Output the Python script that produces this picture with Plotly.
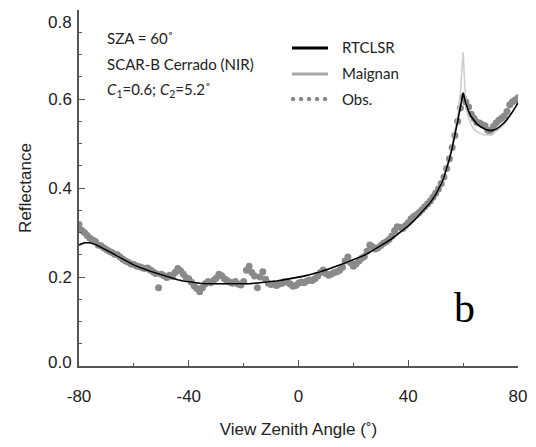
import plotly.graph_objects as go

# ---------------- data ----------------
obs_vza = list(range(-80, 81))
obs_refl = [
    0.318, 0.305, 0.300, 0.293, 0.287, 0.283, 0.280, 0.272, 0.270, 0.266,   # -80..-71
    0.262, 0.258, 0.255, 0.251, 0.250, 0.245, 0.240, 0.236, 0.233, 0.229,   # -70..-61
    0.228, 0.225, 0.223, 0.221, 0.219, 0.220, 0.216, 0.212, 0.208, 0.176,   # -60..-51
    0.206, 0.203, 0.199, 0.204, 0.201, 0.210, 0.219, 0.214, 0.207, 0.199,   # -50..-41
    0.196, 0.188, 0.180, 0.174, 0.167, 0.176, 0.185, 0.190, 0.187, 0.192,   # -40..-31
    0.197, 0.206, 0.203, 0.196, 0.192, 0.188, 0.186, 0.190, 0.184, 0.182,   # -30..-21
    0.190, 0.215, 0.224, 0.210, 0.202, 0.176, 0.200, 0.212, 0.195, 0.186,   # -20..-11
    0.183, 0.185, 0.181, 0.184, 0.186, 0.190, 0.188, 0.184, 0.179, 0.181,   # -10..-1
    0.186,                                                                   # 0
    0.189, 0.187, 0.191, 0.193, 0.192, 0.196, 0.202, 0.210, 0.216, 0.208,   # 1..10
    0.204, 0.207, 0.210, 0.212, 0.215, 0.222, 0.236, 0.245, 0.232, 0.224,   # 11..20
    0.229, 0.236, 0.242, 0.246, 0.258, 0.272, 0.268, 0.263, 0.266, 0.271,   # 21..30
    0.276, 0.279, 0.284, 0.292, 0.304, 0.313, 0.312, 0.309, 0.316, 0.322,   # 31..40
    0.331, 0.336, 0.340, 0.345, 0.351, 0.358, 0.364, 0.371, 0.379, 0.388,   # 41..50
    0.398, 0.410, 0.425, 0.444, 0.466, 0.491, 0.518, 0.550, 0.580, 0.604,   # 51..60
    0.593, 0.582, 0.566, 0.556, 0.548, 0.546, 0.542, 0.540, 0.530, 0.526,   # 61..70
    0.538, 0.546, 0.552, 0.557, 0.562, 0.572, 0.587, 0.594, 0.598, 0.603,   # 71..80
]

model_vza = [-80, -78, -76, -74, -72, -70, -68, -66, -64, -62, -60, -58, -56, -54, -52,
             -50, -48, -46, -44, -42, -40, -38, -36, -34, -32, -30, -28, -26, -24, -22,
             -20, -18, -16, -14, -12, -10, -8, -6, -4, -2, 0, 2, 4, 6, 8, 10, 12, 14, 16,
             18, 20, 22, 24, 26, 28, 30, 32, 34, 36, 38, 40, 42, 44, 46, 48, 50, 51, 52,
             53, 54, 55, 56, 57, 58, 59, 60, 61, 62, 63, 64, 65, 66, 67, 68, 69, 70, 71,
             72, 73, 74, 75, 76, 77, 78, 79, 80]
rtclsr = [0.272, 0.277, 0.277, 0.273, 0.267, 0.261, 0.254, 0.247, 0.240, 0.233, 0.227,
          0.222, 0.217, 0.213, 0.209, 0.205, 0.201, 0.197, 0.194, 0.191, 0.189, 0.187,
          0.186, 0.185, 0.185, 0.184, 0.184, 0.184, 0.184, 0.184, 0.185, 0.185, 0.186,
          0.187, 0.188, 0.189, 0.191, 0.193, 0.195, 0.197, 0.200, 0.202, 0.205, 0.208,
          0.212, 0.216, 0.220, 0.224, 0.229, 0.234, 0.239, 0.244, 0.249, 0.256, 0.263,
          0.270, 0.278, 0.286, 0.295, 0.305, 0.315, 0.326, 0.339, 0.352, 0.367, 0.385,
          0.396, 0.409, 0.424, 0.443, 0.465, 0.490, 0.518, 0.550, 0.582, 0.614, 0.590,
          0.572, 0.560, 0.551, 0.544, 0.539, 0.535, 0.532, 0.530, 0.529, 0.530, 0.532,
          0.536, 0.541, 0.547, 0.554, 0.562, 0.571, 0.581, 0.592]
maignan = [0.272, 0.277, 0.277, 0.273, 0.267, 0.261, 0.254, 0.247, 0.240, 0.233, 0.227,
           0.222, 0.217, 0.213, 0.209, 0.205, 0.201, 0.197, 0.194, 0.191, 0.189, 0.187,
           0.186, 0.185, 0.185, 0.184, 0.184, 0.184, 0.184, 0.184, 0.185, 0.185, 0.186,
           0.187, 0.188, 0.189, 0.191, 0.193, 0.195, 0.197, 0.200, 0.202, 0.205, 0.208,
           0.212, 0.216, 0.220, 0.224, 0.229, 0.234, 0.239, 0.244, 0.249, 0.256, 0.263,
           0.270, 0.278, 0.286, 0.295, 0.305, 0.315, 0.326, 0.339, 0.352, 0.367, 0.385,
           0.396, 0.409, 0.425, 0.445, 0.468, 0.494, 0.525, 0.562, 0.615, 0.705, 0.582,
           0.556, 0.541, 0.532, 0.527, 0.523, 0.520, 0.519, 0.519, 0.520, 0.523, 0.527,
           0.532, 0.538, 0.545, 0.553, 0.562, 0.571, 0.581, 0.592]

x_ticks = [-80, -40, 0, 40, 80]
y_ticks = [0.0, 0.2, 0.4, 0.6, 0.8]
legend_names = ["RTCLSR", "Maignan", "Obs."]

# ---------------- figure ----------------
W, H = 536, 447
L, R, T, B = 79, 518, 10, 366


def px(xp):
    return (xp - L) / (R - L)


def py(yp):
    return (B - yp) / (B - T)


fig = go.Figure()
fig.add_trace(go.Scatter(x=obs_vza, y=obs_refl, mode="markers",
                         marker=dict(color="#8a8a8a", size=7, line=dict(width=0)),
                         name=legend_names[2], showlegend=False))
fig.add_trace(go.Scatter(x=model_vza, y=maignan, mode="lines",
                         line=dict(color="#cfcfcf", width=1.6),
                         name=legend_names[1], showlegend=False))
fig.add_trace(go.Scatter(x=model_vza, y=rtclsr, mode="lines",
                         line=dict(color="#000000", width=1.6),
                         name=legend_names[0], showlegend=False))

axis_font = dict(family="Liberation Sans, Arial, sans-serif", size=17, color="#222")

common = dict(ticks="inside", ticklen=6, tickwidth=1, showgrid=False, zeroline=False,
              showline=True, linewidth=1.5)

# the end labels of the y axis sit slightly inside the frame in the original
y_ticktext = [f"{v:.1f}" for v in y_ticks]
y_ticktext_axis = ["" if v in (y_ticks[0], y_ticks[-1]) else t
                   for v, t in zip(y_ticks, y_ticktext)]

fig.update_layout(
    xaxis=dict(range=[-80, 80], tickvals=x_ticks, ticktext=[str(v) for v in x_ticks],
               tickcolor="#555", linecolor="#555",
               minor=dict(dtick=20, ticks="inside", ticklen=3, tickcolor="#555"),
               tickfont=axis_font, ticklabelstandoff=14,
               title=dict(text="View Zenith Angle (˚)", font=axis_font, standoff=18),
               **common),
    yaxis=dict(range=[0, 0.8], tickvals=y_ticks, ticktext=y_ticktext_axis,
               tickcolor="#555", linecolor="#555",
               minor=dict(dtick=0.05, ticks="inside", ticklen=3, tickcolor="#555"),
               tickfont=axis_font, ticklabelstandoff=2,
               title=dict(text="Reflectance", font=axis_font, standoff=12),
               **common),
    xaxis2=dict(range=[-80, 80], overlaying="x", side="top", anchor="y",
                tickvals=x_ticks, showticklabels=False, tickcolor="#999", linecolor="#999",
                minor=dict(dtick=20, ticks="inside", ticklen=3, tickcolor="#999"),
                **common),
    yaxis2=dict(range=[0, 0.8], overlaying="y", side="right", anchor="x",
                tickvals=y_ticks, showticklabels=False, tickcolor="#999", linecolor="#999",
                minor=dict(dtick=0.05, ticks="inside", ticklen=3, tickcolor="#999"),
                **common),
)

txt_font = dict(family="Lato, Open Sans, sans-serif", size=15, color="#222")
annotations = [
    dict(x=px(105), y=py(38), text="SZA = 60˚"),
    dict(x=px(105), y=py(64), text="SCAR-B Cerrado (NIR)"),
    dict(x=px(105), y=py(90), text="<i>C</i><sub>1</sub>=0.6; <i>C</i><sub>2</sub>=5.2˚"),
    dict(x=px(340), y=py(47), text=legend_names[0]),
    dict(x=px(340), y=py(73), text=legend_names[1]),
    dict(x=px(340), y=py(99), text=legend_names[2]),
]
for a in annotations:
    a.update(xref="paper", yref="paper", xanchor="left", yanchor="middle",
             showarrow=False, font=txt_font)
annotations.append(dict(x=px(464), y=py(308), xref="paper", yref="paper", text="b",
                        showarrow=False, xanchor="center", yanchor="middle",
                        font=dict(family="Liberation Serif, Times New Roman, serif",
                                  size=42, color="#000")))
# end tick labels of the y axis, nudged inward as in the original
annotations.append(dict(x=0, xref="paper", y=y_ticks[-1], yref="y", text=y_ticktext[-1],
                        xanchor="right", yanchor="middle", xshift=-5, yshift=-12,
                        showarrow=False, font=axis_font))
annotations.append(dict(x=0, xref="paper", y=y_ticks[0], yref="y", text=y_ticktext[0],
                        xanchor="right", yanchor="middle", xshift=-5, yshift=4,
                        showarrow=False, font=axis_font))

shapes = [
    dict(type="line", xref="paper", yref="paper", x0=px(292), x1=px(328), y0=py(48), y1=py(48),
         line=dict(color="#000", width=3)),
    dict(type="line", xref="paper", yref="paper", x0=px(292), x1=px(328), y0=py(74), y1=py(74),
         line=dict(color="#a8a8a8", width=3)),
]
for cx in [293, 301, 309, 317, 325]:
    shapes.append(dict(type="circle", xref="paper", yref="paper",
                       x0=px(cx - 2.2), x1=px(cx + 2.2), y0=py(99 + 2.2), y1=py(99 - 2.2),
                       fillcolor="#8a8a8a", line=dict(width=0)))

fig.update_layout(width=W, height=H, margin=dict(l=L, r=W - R, t=T, b=H - B),
                  plot_bgcolor="white", paper_bgcolor="white",
                  annotations=annotations, shapes=shapes, showlegend=False)

fig.write_html("out.html")
